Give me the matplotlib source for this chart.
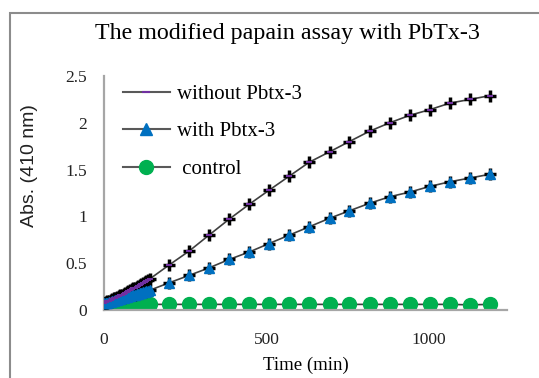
import numpy as np
import matplotlib
matplotlib.use("Agg")
import matplotlib.pyplot as plt
from matplotlib.lines import Line2D
from matplotlib.patches import Rectangle

# time points (min): dense at the start, then roughly hourly
t_early = [0, 5, 10, 15, 20, 25, 30, 35, 40, 45, 50, 55, 60, 65, 70, 75, 80,
           85, 90, 95, 100, 105, 110, 115, 120, 125, 130, 135, 140]
t_late = [200, 262, 323, 385, 447, 508, 570, 632, 694, 755, 817, 879, 941,
          1002, 1064, 1126, 1187]

without_early = [0.08, 0.09, 0.095, 0.10, 0.11, 0.12, 0.125, 0.13, 0.14, 0.15,
                 0.16, 0.165, 0.17, 0.18, 0.19, 0.20, 0.21, 0.22, 0.23, 0.24,
                 0.25, 0.26, 0.27, 0.28, 0.29, 0.30, 0.31, 0.32, 0.33]
without_late = [0.48, 0.63, 0.80, 0.97, 1.13, 1.28, 1.43, 1.58, 1.69, 1.80,
                1.91, 2.00, 2.08, 2.14, 2.21, 2.25, 2.29]

with_early = [0.07, 0.075, 0.08, 0.085, 0.09, 0.095, 0.10, 0.105, 0.11, 0.115,
              0.12, 0.125, 0.13, 0.135, 0.14, 0.145, 0.15, 0.155, 0.16, 0.165,
              0.17, 0.175, 0.18, 0.185, 0.19, 0.195, 0.20, 0.205, 0.21]
with_late = [0.29, 0.37, 0.45, 0.54, 0.62, 0.71, 0.80, 0.89, 0.98, 1.06,
             1.14, 1.21, 1.26, 1.32, 1.37, 1.41, 1.45]

control_early = [0.06] * 29
control_late = [0.06, 0.06, 0.06, 0.06, 0.06, 0.06, 0.06, 0.06, 0.06, 0.06,
                0.06, 0.06, 0.06, 0.06, 0.06, 0.055, 0.06]

t = t_early + t_late
without = without_early + without_late
with_tx = with_early + with_late
control = control_early + control_late

serif = "Liberation Serif"
line_col = "#404040"

fig = plt.figure(figsize=(5.39, 3.78), dpi=100)
ax = fig.add_axes([104 / 539, 1 - 310 / 378, 403 / 539, 234 / 378])

# outer chart frame
fig.patches.append(Rectangle((10 / 539, -0.1), 1.2, 1 - 13 / 378 + 0.1,
                             transform=fig.transFigure, fill=False,
                             edgecolor="#8c8c8c", lw=1.5))

ax.plot(t, control, color=line_col, lw=1.2, marker="o", ms=10,
        mfc="#00b050", mec="#00b050", zorder=2)
ax.plot(t, with_tx, color=line_col, lw=1.2, marker="+", ms=8, mew=2.5,
        mec="black", zorder=3)
ax.plot(t, with_tx, ls="none", marker="^", ms=7.5, mfc="#0070c0",
        mec="#0070c0", zorder=4)
ax.plot(t, without, color=line_col, lw=1.2, marker="+", ms=8, mew=2.5,
        mec="black", zorder=3)
ax.plot(t, without, ls="none", marker="_", ms=5, mew=1.5, mec="#7030a0",
        zorder=4)

ax.set_xlim(0, 1240)
ax.set_ylim(0, 2.5)
ax.set_xticks([0, 500, 1000])
ax.set_yticks([0, 0.5, 1, 1.5, 2, 2.5])
ax.set_yticklabels(["0", "0.5", "1", "1.5", "2", "2.5"])
ax.tick_params(length=0, labelsize=12.5)
ax.tick_params(axis="y", pad=12)
ax.tick_params(axis="x", pad=16)
for lab in ax.get_xticklabels() + ax.get_yticklabels():
    lab.set_family(serif)
    lab.set_color("#222222")
for s in ["top", "right"]:
    ax.spines[s].set_visible(False)
for s in ["left", "bottom"]:
    ax.spines[s].set_color("#a6a6a6")
    ax.spines[s].set_linewidth(1.6)

ax.set_xlabel("Time (min)", family=serif, fontsize=13.5, labelpad=6)
fig.text(30 / 539, 1 - 166 / 378, "Abs. (410 nm)", family="Liberation Sans",
         fontsize=14, rotation=90, ha="center", va="center", color="#222222")
fig.text(287 / 539, 1 - 33 / 378, "The modified papain assay with PbTx-3",
         family=serif, fontsize=17.3, ha="center", va="center")

handles = [
    Line2D([], [], color="#595959", lw=1.5, marker="_", ms=6, mew=1.5,
           mec="#7030a0"),
    Line2D([], [], color="#595959", lw=1.5, marker="^", ms=8,
           mfc="#0070c0", mec="#0070c0"),
    Line2D([], [], color="#595959", lw=1.5, marker="o", ms=10,
           mfc="#00b050", mec="#00b050"),
]
leg = ax.legend(handles, ["without Pbtx-3", "with Pbtx-3", " control"],
                loc="upper left", bbox_to_anchor=(0.0, 1.045), frameon=False,
                prop={"family": serif, "size": 15}, handlelength=2.25,
                labelspacing=0.86, handletextpad=0.35)

fig.savefig("out.png", dpi=100)
